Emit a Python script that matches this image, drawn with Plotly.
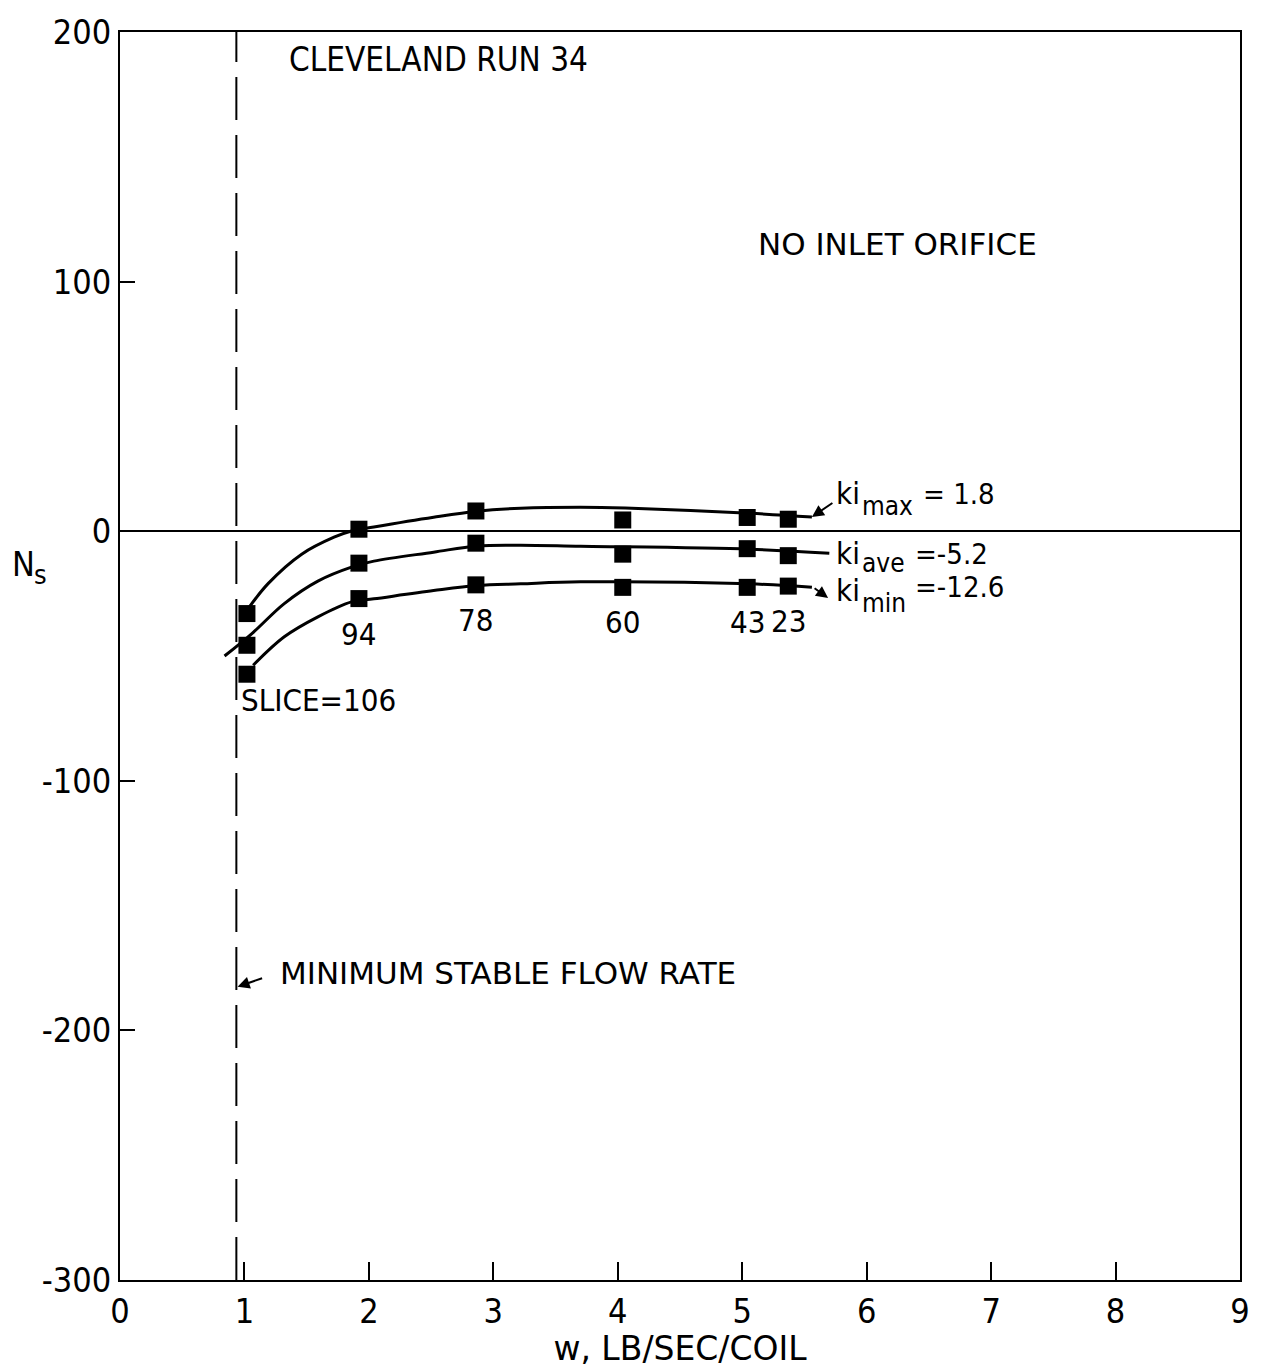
import plotly.graph_objects as go

# Measured stability parameter N_s against coil flow rate w, one series per k_i case
slice_labels = [106, 94, 78, 60, 43, 23]
w = [1.02, 1.92, 2.86, 4.04, 5.04, 5.37]
ns_max = [-33, 0.8, 8.1, 4.5, 5.5, 4.8]
ns_ave = [-45.7, -12.8, -4.8, -9.2, -7.0, -9.8]
ns_min = [-57.3, -27.0, -21.5, -22.5, -22.5, -22.0]

# Faired curves drawn through each series
fit_max_w = [1.03, 1.19, 1.46, 1.72, 1.86, 2.04, 2.52, 2.87, 3.22, 3.70, 4.06, 5.06, 5.56]
fit_max_ns = [-31, -21, -9.2, -2.4, 0.1, 1.7, 5.6, 8.0, 9.2, 9.6, 9.3, 7.2, 5.7]
fit_ave_w = [0.84, 1.06, 1.32, 1.59, 1.86, 2.04, 2.52, 2.87, 3.22, 3.70, 5.06, 5.70]
fit_ave_ns = [-50, -41, -29, -20, -14.4, -12, -8.4, -5.9, -5.6, -6.0, -7.2, -8.8]
fit_min_w = [1.07, 1.32, 1.59, 1.86, 2.04, 2.52, 2.87, 3.22, 3.70, 5.06, 5.56]
fit_min_ns = [-53.7, -42.3, -34.3, -28.3, -27.1, -23.8, -21.8, -21.1, -20.3, -21.1, -22.5]

# k_i value of each series
ki_names = ["max", "ave", "min"]
ki_values = ["1.8", "-5.2", "-12.6"]

min_stable_w = 0.935

x_ticks = [0, 1, 2, 3, 4, 5, 6, 7, 8, 9]
y_ticks = [-300, -200, -100, 0, 100, 200]

FONT = "DejaVu Sans Condensed, DejaVu Sans, sans-serif"
WIDE = "DejaVu Sans, sans-serif"
INK = "black"

fig = go.Figure()

for fx, fy in [(fit_max_w, fit_max_ns), (fit_ave_w, fit_ave_ns), (fit_min_w, fit_min_ns)]:
    fig.add_trace(go.Scatter(x=fx, y=fy, mode="lines",
                             line=dict(color=INK, width=3, shape="spline", smoothing=1.0),
                             hoverinfo="skip", showlegend=False))

for ys in [ns_max, ns_ave, ns_min]:
    fig.add_trace(go.Scatter(x=w, y=ys, mode="markers",
                             marker=dict(symbol="square", size=17, color=INK),
                             showlegend=False))

# Minimum stable flow rate line
fig.add_shape(type="line", xref="x", yref="y", x0=min_stable_w, x1=min_stable_w,
              y0=-300, y1=200, line=dict(color=INK, width=2, dash="43px,15px"))

ann = []

def text(x, y, s, size=32, xanchor="left", yanchor="middle", xref="x", yref="y", family=FONT):
    ann.append(dict(x=x, y=y, xref=xref, yref=yref, text=s, showarrow=False,
                    xanchor=xanchor, yanchor=yanchor,
                    font=dict(family=family, size=size, color=INK)))

text(1.34, 189, "CLEVELAND RUN 34", 33)
text(5.11, 115, "NO INLET ORIFICE", 31, family=WIDE)
text(1.27, -177, "MINIMUM STABLE FLOW RATE", 31, family=WIDE)

# Slice numbers beneath the lowest series
text(w[0] - 0.06, ns_min[0] - 10.5, "SLICE=" + str(slice_labels[0]), 31)
for xv, yv, lab in zip(w[1:], ns_min[1:], slice_labels[1:]):
    text(xv, yv - 14, str(lab), 31, xanchor="center")

# Series labels: "ki", lowered subscript, then "= value"
label_y = [15.5, -8.8, -23.5]
sub_y = [10.0, -12.8, -28.8]
val_y = [14.8, -9.2, -22.3]
val_x = [6.44, 6.37, 6.37]
for name, val, ly, sy, vy, vx in zip(ki_names, ki_values, label_y, sub_y, val_y, val_x):
    text(5.74, ly, "ki", 31)
    text(5.95, sy, name, 26)
    text(vx, vy, ("= " if not val.startswith("-") else "=") + val, 29)

# Axis name for N_s
text(-0.086, -13, "N", 34, xanchor="center", xref="paper")
text(-0.071, -17.5, "s", 27, xanchor="center", xref="paper")

# Leader arrows
def arrow(x, y, ax, ay):
    ann.append(dict(x=x, y=y, xref="x", yref="y", ax=ax, ay=ay, text="",
                    showarrow=True, arrowhead=2, arrowsize=1.2, arrowwidth=2,
                    arrowcolor=INK))

arrow(fit_max_w[-1], fit_max_ns[-1], 22, -15)
arrow(5.69, -26.8, -15, -11)
arrow(min_stable_w + 0.01, -182.5, 26, -9)

fig.update_layout(
    width=1262, height=1368,
    margin=dict(l=120, r=13, t=23, b=88),
    paper_bgcolor="white", plot_bgcolor="white",
    annotations=ann,
    font=dict(family=FONT, color=INK),
    xaxis=dict(range=[0, 9], tickvals=x_ticks, ticktext=[str(v) for v in x_ticks],
               ticks="inside", ticklen=18, tickwidth=2, tickcolor=INK,
               showline=True, linewidth=2, linecolor=INK, mirror=True,
               showgrid=False, zeroline=False,
               tickfont=dict(family=FONT, size=34, color=INK), ticklabelstandoff=0,
               title=dict(text="w, LB/SEC/COIL", font=dict(family=WIDE, size=33, color=INK),
                          standoff=2)),
    yaxis=dict(range=[-300, 200], tickvals=y_ticks, ticktext=[str(v) for v in y_ticks],
               ticks="inside", ticklen=15, tickwidth=2, tickcolor=INK,
               showline=True, linewidth=2, linecolor=INK, mirror=True,
               showgrid=False, zeroline=True, zerolinewidth=2, zerolinecolor=INK,
               tickfont=dict(family=FONT, size=34, color=INK), ticklabelstandoff=0),
)

fig.write_html("out.html")
